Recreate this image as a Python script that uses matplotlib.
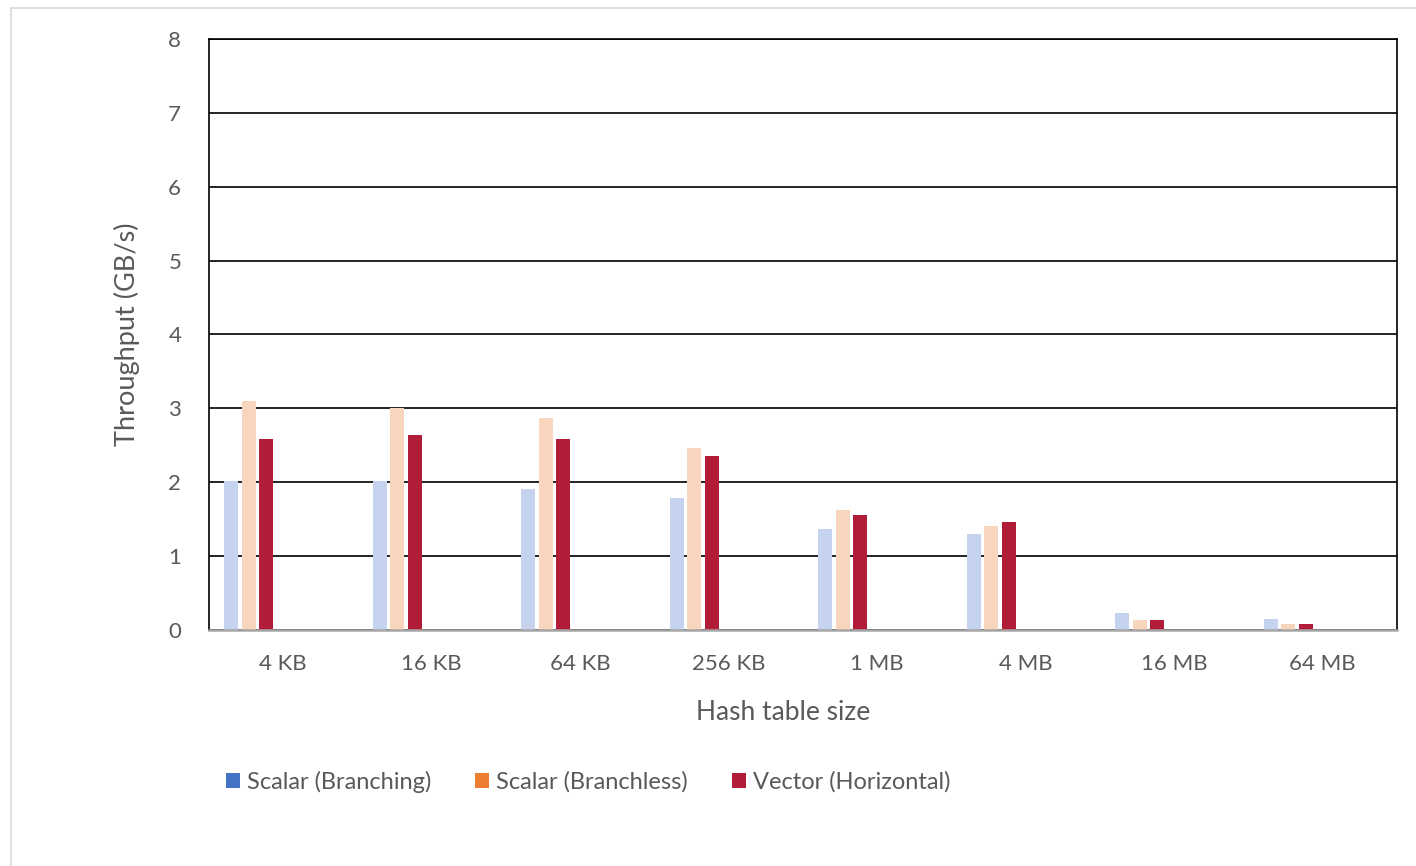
import numpy as np
import matplotlib.pyplot as plt
from matplotlib.patches import Patch
from matplotlib.lines import Line2D

sizes = ['4 KB', '16 KB', '64 KB', '256 KB', '1 MB', '4 MB', '16 MB', '64 MB']
scalar_branching = [2.02, 2.02, 1.91, 1.79, 1.37, 1.30, 0.23, 0.15]
scalar_branchless = [3.10, 3.00, 2.87, 2.46, 1.62, 1.41, 0.13, 0.08]
vector_horizontal = [2.58, 2.64, 2.58, 2.35, 1.56, 1.46, 0.13, 0.08]

series_names = ['Scalar (Branching)', 'Scalar (Branchless)', 'Vector (Horizontal)']
bar_colors = ['#C5D3EE', '#F8D6BE', '#B11D38']
key_colors = ['#4472C4', '#ED7D31', '#B11D38']

plt.rcParams['font.family'] = ['Lato', 'DejaVu Sans']
txt = '#595959'

fig = plt.figure(figsize=(14.16, 8.66), dpi=100)
ax = fig.add_axes([0.1476, 0.2725, 0.8390, 0.6825])

x = np.arange(len(sizes))
w = 0.094
offsets = [-0.35, -0.232, -0.114]
for vals, off, c in zip([scalar_branching, scalar_branchless, vector_horizontal], offsets, bar_colors):
    ax.bar(x + off, vals, width=w, color=c, zorder=3)

ax.set_xlim(-0.5, len(sizes) - 0.5)
ax.set_ylim(0, 8)
ax.set_yticks(range(0, 9))
ax.set_xticks(x)
ax.set_xticklabels(sizes)
ax.tick_params(axis='both', length=0, labelsize=16, colors=txt)
ax.tick_params(axis='y', pad=20)
ax.tick_params(axis='x', pad=17)
ax.grid(axis='y', color='black', linewidth=1.2, zorder=1)
for s in ['left', 'top', 'right']:
    ax.spines[s].set_color('black')
    ax.spines[s].set_linewidth(1.2)
ax.spines['bottom'].set_color('#A6A6A6')
ax.spines['bottom'].set_linewidth(1.8)
ax.spines['bottom'].set_zorder(4)

ax.set_ylabel('Throughput (GB/s)', fontsize=19.5, color=txt, labelpad=20)
ax.set_xlabel('Hash table size', fontsize=19, color=txt, labelpad=19)
ax.xaxis.label.set_x(0.483)

handles = [Patch(facecolor=c, label=n) for c, n in zip(key_colors, series_names)]
fig.legend(handles=handles, loc='center left', bbox_to_anchor=(0.1443, 0.097), ncol=3,
           frameon=False, fontsize=17, handlelength=0.6, handleheight=0.6,
           handletextpad=0.3, columnspacing=1.85, labelcolor=txt)

# chart area border (top and left edges only)
bx, by = 10.5 / 1416, 1 - 7.5 / 866
fig.add_artist(Line2D([bx, 1], [by, by], transform=fig.transFigure, color='#D9D9D9', lw=1.2))
fig.add_artist(Line2D([bx, bx], [0, by], transform=fig.transFigure, color='#D9D9D9', lw=1.2))

fig.savefig('out.png', dpi=100)
